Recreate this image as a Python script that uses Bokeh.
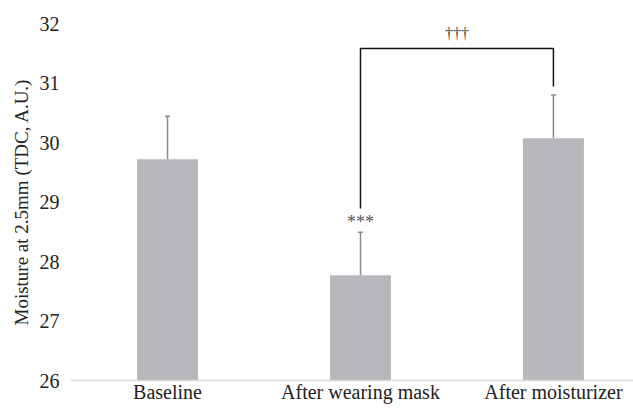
from bokeh.plotting import figure
from bokeh.models import Range1d, FixedTicker, Whisker, TeeHead, ColumnDataSource
from bokeh.embed import file_html
from bokeh.resources import INLINE
from bokeh.core.properties import value

categories = ["Baseline", "After wearing mask", "After moisturizer"]
means = [29.72, 27.77, 30.07]
errors = [0.72, 0.72, 0.73]
y_ticks = [26, 27, 28, 29, 30, 31, 32]
y_title = "Moisture at 2.5mm (TDC, A.U.)"
sig_star = "***"
sig_dagger = "\u2020\u2020\u2020"

xs = list(range(len(categories)))
upper = [m + e for m, e in zip(means, errors)]
src = ColumnDataSource(dict(x=xs, top=means, upper=upper, lower=means))

FONT = "Liberation Serif"

p = figure(width=633, height=411, output_backend="svg", toolbar_location=None,
           x_range=Range1d(-0.503, 2.415), y_range=Range1d(26, 32),
           min_border_left=70, min_border_right=0, min_border_top=23, min_border_bottom=31)
p.outline_line_color = None
p.xgrid.visible = False
p.ygrid.visible = False

p.vbar(x="x", top="top", bottom=26, width=0.316, source=src,
       fill_color="#b7b8bc", line_color=None)

w = Whisker(base="x", upper="upper", lower="lower", source=src,
            line_color="#8a8a8a", line_width=1.5,
            upper_head=TeeHead(size=5, line_color="#8a8a8a", line_width=1.5),
            lower_head=None)
p.add_layout(w)

# significance bracket between mask (1) and moisturizer (2)
br_top = 31.58
p.line(x=[1, 1, 2, 2], y=[28.89, br_top, br_top, 30.94], line_color="#111111", line_width=1.5)

p.text(x=[1], y=[28.66], text=[sig_star], text_align="center", text_baseline="middle",
       text_font=value(FONT), text_font_size="18px", text_color="#555555")
p.text(x=[1.5], y=[31.84], text=[sig_dagger], text_align="center", text_baseline="middle",
       text_font=value(FONT), text_font_size="16px", text_color="#444444")

# axes
p.xaxis.ticker = FixedTicker(ticks=xs)
p.xaxis.major_label_overrides = {i: c for i, c in enumerate(categories)}
p.xaxis.major_tick_line_color = None
p.xaxis.minor_tick_line_color = None
p.xaxis.axis_line_color = "#d9d9d9"
p.xaxis.axis_line_width = 1.5
p.xaxis.major_label_standoff = -6
p.xaxis.major_label_text_font = FONT
p.xaxis.major_label_text_font_size = "20px"
p.xaxis.major_label_text_color = "#222222"

p.yaxis.ticker = FixedTicker(ticks=y_ticks)
p.yaxis.axis_line_color = None
p.yaxis.major_tick_line_color = None
p.yaxis.minor_tick_line_color = None
p.yaxis.major_label_standoff = 5
p.yaxis.major_label_text_font = FONT
p.yaxis.major_label_text_font_size = "20px"
p.yaxis.major_label_text_color = "#222222"
p.yaxis.axis_label = y_title
p.yaxis.axis_label_text_font = FONT
p.yaxis.axis_label_text_font_size = "19px"
p.yaxis.axis_label_text_font_style = "normal"
p.yaxis.axis_label_text_color = "#222222"
p.yaxis.axis_label_standoff = 5

open("out.html", "w").write(file_html(p, INLINE))
